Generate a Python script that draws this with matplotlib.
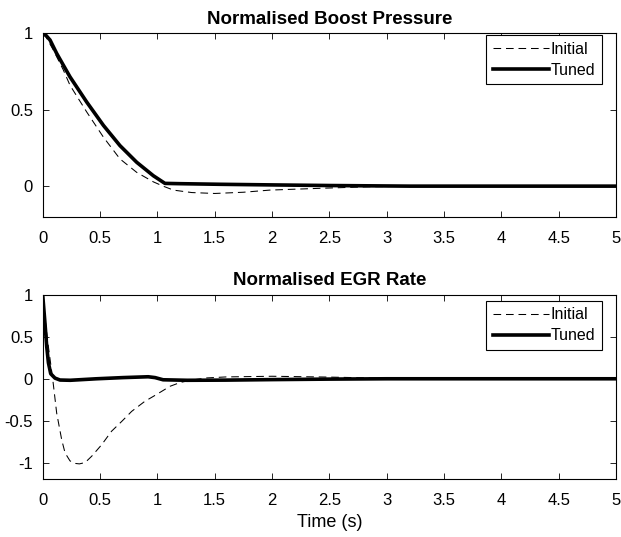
import matplotlib
matplotlib.use('Agg')
import matplotlib.pyplot as plt

plt.rcParams['font.family'] = ['Liberation Sans', 'DejaVu Sans']
plt.rcParams['axes.unicode_minus'] = False
plt.rcParams['lines.scale_dashes'] = False

# Boost pressure (normalised)
t_boost_init = [0, 0.03, 0.093, 0.18, 0.238, 0.384, 0.53, 0.674, 0.82, 0.965, 1.05,
                1.14, 1.3, 1.5, 1.75, 1.98, 2.2, 2.47, 2.85, 3.2, 3.6, 5.0]
boost_init = [1.0, 0.975, 0.89, 0.76, 0.66, 0.485, 0.32, 0.178, 0.09, 0.028, 0.0,
              -0.026, -0.042, -0.048, -0.04, -0.026, -0.02, -0.013, -0.004, -0.001, 0.0, 0.0]
t_boost_tuned = [0, 0.03, 0.064, 0.122, 0.238, 0.384, 0.53, 0.674, 0.82, 0.965, 1.066,
                 1.2, 1.55, 2.0, 2.5, 2.85, 3.2, 5.0]
boost_tuned = [1.0, 0.985, 0.956, 0.868, 0.715, 0.55, 0.397, 0.265, 0.156, 0.068, 0.018,
               0.016, 0.012, 0.008, 0.004, 0.002, 0.0, 0.0]

# EGR rate (normalised)
t_egr_init = [0, 0.02, 0.05, 0.087, 0.122, 0.166, 0.195, 0.238, 0.28, 0.32, 0.37, 0.427,
              0.515, 0.6, 0.69, 0.776, 0.89, 0.99, 1.11, 1.2, 1.3, 1.43, 1.6, 2.0, 2.5,
              3.0, 3.5, 5.0]
egr_init = [1.0, 0.72, 0.38, 0.0, -0.41, -0.73, -0.885, -0.98, -1.01, -1.016, -1.0, -0.925,
            -0.786, -0.627, -0.508, -0.389, -0.27, -0.19, -0.09, -0.044, -0.015, 0.01, 0.022,
            0.03, 0.02, 0.006, 0.0, 0.0]
t_egr_tuned = [0, 0.02, 0.035, 0.05, 0.07, 0.107, 0.151, 0.24, 0.47, 0.7, 0.92, 0.98,
               1.05, 1.26, 1.6, 2.0, 2.5, 3.0, 5.0]
egr_tuned = [1.0, 0.66, 0.385, 0.19, 0.06, 0.008, -0.015, -0.018, 0.0, 0.014, 0.024, 0.014,
             -0.012, -0.018, -0.016, -0.01, -0.004, 0.0, 0.0]

W, H = 621, 537
fig = plt.figure(figsize=(W / 100, H / 100), dpi=100)


def px_axes(left, top, right, bottom):
    return fig.add_axes([left / W, 1 - bottom / H, (right - left) / W, (bottom - top) / H])


def style(ax, ylim, yticks, title):
    ax.set_xlim(0, 5)
    ax.set_ylim(*ylim)
    ax.set_xticks([0, 0.5, 1, 1.5, 2, 2.5, 3, 3.5, 4, 4.5, 5])
    ax.set_xticklabels(['0', '0.5', '1', '1.5', '2', '2.5', '3', '3.5', '4', '4.5', '5'])
    ax.set_yticks(yticks)
    ax.set_yticklabels([('%g' % v) for v in yticks])
    ax.tick_params(direction='in', top=True, right=True, length=4, width=0.6,
                   labelsize=12)
    ax.tick_params(axis='x', pad=10)
    ax.tick_params(axis='y', pad=7)
    for s in ax.spines.values():
        s.set_linewidth(0.8)
    ax.set_title(title, fontsize=13.5, fontweight='bold', pad=7)


def add_legend(ax, top):
    leg = ax.legend(loc='upper right', bbox_to_anchor=(0.9756, top), borderaxespad=0,
                    fontsize=11.5, fancybox=False, edgecolor='black', framealpha=1,
                    handlelength=3.5, handletextpad=0.15, borderpad=0.4, labelspacing=0.4)
    leg.get_frame().set_linewidth(0.8)


ax1 = px_axes(42.7, 33.3, 616, 216.7)
ax1.plot(t_boost_init, boost_init, color='black', lw=0.75, dashes=(5.5, 3.5), label='Initial')
ax1.plot(t_boost_tuned, boost_tuned, color='black', lw=2.6, label='Tuned')
style(ax1, (-0.2, 1), [0, 0.5, 1], 'Normalised Boost Pressure')
add_legend(ax1, 0.99)

ax2 = px_axes(42.7, 295, 616, 479.3)
ax2.plot(t_egr_init, egr_init, color='black', lw=0.75, dashes=(5.5, 3.5), label='Initial')
ax2.plot(t_egr_tuned, egr_tuned, color='black', lw=2.6, label='Tuned')
style(ax2, (-1.2, 1), [-1, -0.5, 0, 0.5, 1], 'Normalised EGR Rate')
ax2.set_xlabel('Time (s)', fontsize=13, labelpad=4)
add_legend(ax2, 0.969)

fig.savefig('out.png', dpi=100)
